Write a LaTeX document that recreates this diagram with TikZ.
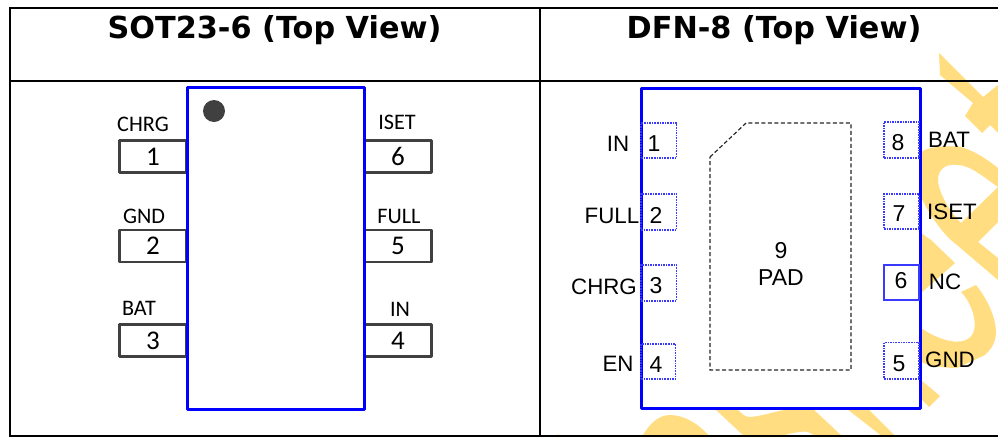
\documentclass[tikz,border=0pt]{standalone}
\usepackage{fontspec}
\setmainfont{Liberation Sans}
\newfontfamily\titlefont{DejaVu Sans}
\newfontfamily\calfont{Carlito}
\definecolor{wm}{HTML}{FFDD80}
\definecolor{pinc}{HTML}{404040}
\definecolor{chipc}{HTML}{0000FF}
\definecolor{padc}{HTML}{3A3AFF}
\tikzset{
  rule/.style={line width=2pt,black},
  wmark/.style={fill=wm,draw=none},
  titlelbl/.style={font=\titlefont\bfseries\fontsize{30.3}{32}\selectfont,inner sep=0pt},
  chip/.style={draw=chipc,fill=white,line width=3pt,inner sep=0pt,outer sep=0pt,line join=round},
  pinbox/.style={draw=pinc,fill=white,line width=2.8pt,inner sep=0pt,outer sep=0pt,minimum width=67pt,minimum height=32pt,font=\calfont\fontsize{27}{27}\selectfont,line join=round},
  callbl/.style={font=\calfont\fontsize{22.2}{23}\selectfont,inner sep=0pt},
  arilbl/.style={font=\fontsize{22.3}{23}\selectfont,inner sep=0pt},
  padbox/.style={draw=padc,line width=1.2pt,dash pattern=on 1.6pt off 1pt,inner sep=0pt,outer sep=0pt},
  padsolid/.style={draw=padc,line width=1.2pt,inner sep=0pt,outer sep=0pt},
  paddigit/.style={font=\fontsize{23}{24}\selectfont,inner sep=0pt},
}
\begin{document}
\begin{tikzpicture}[x=1pt,y=-1pt]
\useasboundingbox[fill=white] (0,0) rectangle (998,437);
% watermark
\fill[wmark] (939,53) -- (983,97) -- (998,85) -- (998,133) -- (990,125) -- (982,133) -- (965,116) -- (973,103) -- (940,75) -- cycle;
\fill[wmark] (921,152) .. controls (928,147) and (945,145) .. (961,147) .. controls (975,151) and (988,160) .. (998,168) -- (998,187) .. controls (985,178) and (970,165) .. (958,165) .. controls (945,163) and (937,170) .. (938,182) .. controls (940,195) and (950,212) .. (961,223) -- (998,187) -- (998,222) -- (978,242) -- (998,258) -- (998,280) -- (951,240) .. controls (940,230) and (928,212) .. (921,197) -- cycle;
\fill[wmark] (921,233) -- (931,240) -- (955,263) -- (921,293) -- cycle;
\fill[wmark] (921,328) .. controls (935,338) and (955,345) .. (966,340) .. controls (977,335) and (976,322) .. (972,310) .. controls (968,300) and (965,296) .. (961,292) -- (976,285) .. controls (988,300) and (996,318) .. (996,333) .. controls (995,345) and (990,350) .. (985,355) -- (957,368) .. controls (945,368) and (930,366) .. (921,362) -- cycle;
\fill[wmark] (921,380) -- (940,396) -- (929,407) -- (921,399) -- cycle;
\fill[wmark] (642,437) .. controls (650,422) and (660,415) .. (670,415) .. controls (685,415) and (700,425) .. (710,437) -- cycle;
\fill[wmark] (715,409) -- (737,409) .. controls (742,414) and (745,417) .. (750,417) .. controls (765,416) and (780,409) .. (795,409) -- (813,409) -- (843,437) -- (815,437) .. controls (810,431) and (805,431) .. (800,432) .. controls (790,433) and (785,435) .. (778,437) -- (745,437) -- cycle;
\fill[wmark] (847,409) -- (868,409) -- (896,437) -- (883,437) -- cycle;
\fill[wmark] (555,437) -- (558,434) -- (561,437) -- cycle;
% table rules
\draw[rule] (10,8) -- (998,8);
\draw[rule] (10,81) -- (998,81);
\draw[rule] (10,436) -- (998,436);
\draw[rule] (10,7) -- (10,437);
\draw[rule] (540,7) -- (540,437);
% titles
\node[titlelbl] (t1) at (274.5,30.5) {SOT23-6 (Top View)};
\node[titlelbl] (t2) at (774,30.5) {DFN-8 (Top View)};
% SOT pins
\node[pinbox] (p1) at (153,156.5) {1};
\node[pinbox] (p2) at (153,246) {2};
\node[pinbox] (p3) at (153,340.5) {3};
\node[pinbox] (p6) at (398,156.5) {6};
\node[pinbox] (p5) at (398,246) {5};
\node[pinbox] (p4) at (398,340.5) {4};
% SOT body
\node[chip,minimum width=177pt,minimum height=322pt] (sot) at (275.5,248) {};
\fill[pinc] (214,111) circle (11);
\node[callbl] (l1) at (143,124) {CHRG};
\node[callbl] (l2) at (144,216) {GND};
\node[callbl] (l3) at (139,308) {BAT};
\node[callbl] (l6) at (397,122) {ISET};
\node[callbl] (l5) at (399,216) {FULL};
\node[callbl] (l4) at (400,309) {IN};
% DFN body
\node[chip,minimum width=279pt,minimum height=320pt] (dfn) at (780.5,248) {};
\draw[black!85,line width=1.2pt,dash pattern=on 4pt off 2.5pt] (710,157) -- (746,123) -- (851,123) -- (851,370) -- (710,370) -- cycle;
\node[padbox,minimum width=35.5pt,minimum height=35pt] (d1) at (658.8,140.5) {};
\node[padbox,minimum width=35.5pt,minimum height=36pt] (d2) at (658.8,212) {};
\node[padbox,minimum width=35.5pt,minimum height=36pt] (d3) at (658.8,283) {};
\node[padbox,minimum width=34.5pt,minimum height=35pt] (d4) at (658.3,361.5) {};
\node[padbox,minimum width=35pt,minimum height=36pt] (d8) at (901.5,140) {};
\node[padbox,minimum width=35pt,minimum height=35pt] (d7) at (901.5,211.5) {};
\node[padsolid,minimum width=35pt,minimum height=35pt] (d6) at (901.5,282.5) {};
\node[padbox,minimum width=35pt,minimum height=36.5pt] (d5) at (901.5,360.7) {};
\node[paddigit] (n1) at (654,144) {1};
\node[paddigit] (n2) at (656,215) {2};
\node[paddigit] (n3) at (656,286) {3};
\node[paddigit] (n4) at (656,365) {4};
\node[paddigit] (n8) at (898,143) {8};
\node[paddigit] (n7) at (899,214) {7};
\node[paddigit] (n6) at (901,281) {6};
\node[paddigit] (n5) at (899,364) {5};
\node[paddigit] (n9) at (781,251) {9};
\node[paddigit] (npad) at (781,278) {PAD};
\node[arilbl] (e1) at (618,144) {IN};
\node[arilbl] (e2) at (612,216) {FULL};
\node[arilbl] (e3) at (604,287) {CHRG};
\node[arilbl] (e4) at (618,364) {EN};
\node[arilbl] (e8) at (949,140) {BAT};
\node[arilbl] (e7) at (952,212) {ISET};
\node[arilbl] (e6) at (945,282) {NC};
\node[arilbl] (e5) at (950,360) {GND};
\end{tikzpicture}
\end{document}
